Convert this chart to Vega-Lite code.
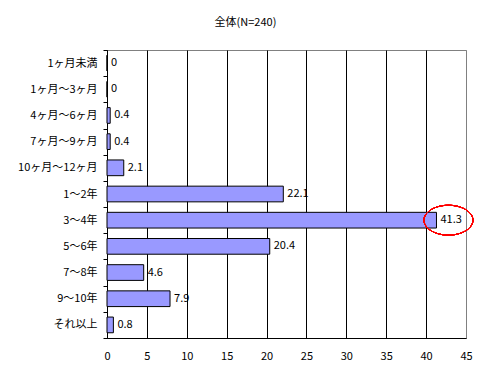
{
  "$schema": "https://vega.github.io/schema/vega-lite/v6.json",
  "autosize": "none",
  "width": 359,
  "height": 288,
  "padding": {"left": 107, "top": 50, "right": 25, "bottom": 45},
  "background": "white",
  "config": {
    "font": "Noto Sans CJK JP",
    "view": {"stroke": "#808080", "strokeWidth": 1},
    "axis": {"labelFont": "Noto Sans CJK JP", "labelFontSize": 11, "labelColor": "black", "domainColor": "black", "tickColor": "black"}
  },
  "title": {"text": "全体(N=240)", "fontSize": 11, "fontWeight": "normal", "font": "Noto Sans CJK JP", "color": "black", "anchor": "middle", "frame": "group", "dx": -41, "offset": 16},
  "data": {"values": [
    {"period": "1ヶ月未満", "pct": 0},
    {"period": "1ヶ月～3ヶ月", "pct": 0},
    {"period": "4ヶ月～6ヶ月", "pct": 0.4},
    {"period": "7ヶ月～9ヶ月", "pct": 0.4},
    {"period": "10ヶ月～12ヶ月", "pct": 2.1},
    {"period": "1～2年", "pct": 22.1},
    {"period": "3～4年", "pct": 41.3},
    {"period": "5～6年", "pct": 20.4},
    {"period": "7～8年", "pct": 4.6},
    {"period": "9～10年", "pct": 7.9},
    {"period": "それ以上", "pct": 0.8}
  ]},
  "encoding": {
    "y": {"field": "period", "type": "nominal", "sort": null, "title": null,
      "scale": {"paddingInner": 0, "paddingOuter": 0},
      "axis": {"tickBand": "extent", "tickSize": 4, "labelPadding": 6, "domainColor": "black"}},
    "x": {"field": "pct", "type": "quantitative", "title": null,
      "scale": {"domain": [0, 45], "nice": false},
      "axis": {"values": [0, 5, 10, 15, 20, 25, 30, 35, 40, 45], "ticks": false, "labelPadding": 12, "grid": true,
        "gridColor": {"condition": {"test": "datum.value == 45", "value": "#808080"}, "value": "black"},
        "gridOpacity": 1, "labelFlush": false}}
  },
  "layer": [
    {"mark": {"type": "bar", "fill": "#9999FF", "stroke": "black", "strokeWidth": 1, "height": {"band": 0.6}}},
    {"mark": {"type": "text", "align": "left", "dx": 4, "fontSize": 11, "color": "black", "font": "Noto Sans CJK JP"},
      "encoding": {"text": {"field": "pct", "type": "quantitative"}}},
    {"mark": {"type": "point", "shape": "M -1 0 A 1 0.61 0 1 1 1 0 A 1 0.61 0 1 1 -1 0 Z", "size": 2401, "filled": false, "stroke": "red", "strokeWidth": 1, "opacity": 1, "clip": false},
      "encoding": {"x": {"datum": 42.8}, "y": {"datum": "3～4年"}}}
  ]
}
